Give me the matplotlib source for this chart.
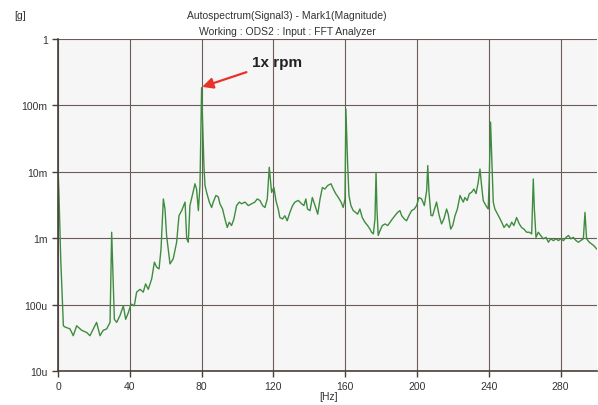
import numpy as np
import matplotlib
matplotlib.use("Agg")
import matplotlib.pyplot as plt
from matplotlib.ticker import FixedLocator, FixedFormatter, NullLocator

plt.rcParams['font.family'] = ['Liberation Sans', 'DejaVu Sans']

# spectrum: frequency [Hz] and magnitude [g]
freq = [0.0, 0.5, 1.5, 3.0, 3.9, 6.7, 8.5, 10.4, 13.2, 16.0, 17.8, 19.7, 21.5, 23.4, 25.2, 27.1, 29.0,
        29.9, 31.4, 32.7, 34.5, 36.4, 37.7, 39.2, 40.7, 42.5, 43.8, 45.7, 47.5, 48.8, 50.3, 52.2, 53.7,
        55.0, 56.3, 57.4, 58.7, 59.6, 60.5, 62.4, 64.2, 66.1, 67.4, 68.9, 70.8, 71.7, 72.6, 73.5, 75.0,
        76.3, 77.2, 78.2, 79.1, 80.0, 81.3, 81.9, 82.8, 84.3, 85.6, 86.5, 88.0, 89.3, 90.2, 91.7, 93.0,
        94.3, 95.4, 96.7, 98.0, 99.5, 101.0, 102.3, 104.2, 106.0, 107.9, 109.7, 111.0, 112.5, 114.0,
        115.3, 116.6, 117.7, 119.0, 120.3, 121.4, 122.7, 123.6, 125.1, 126.4, 127.7, 129.2, 130.7,
        132.0, 133.9, 135.7, 137.0, 138.1, 139.0, 140.4, 141.7, 143.2, 144.7, 146.0, 147.3, 148.7,
        150.2, 152.1, 153.4, 154.7, 156.2, 157.7, 158.9, 159.9, 160.4, 161.4, 162.1, 163.2, 164.5,
        165.8, 166.9, 168.2, 169.5, 171.0, 172.5, 173.8, 174.7, 175.7, 176.6, 177.2, 177.7, 178.4,
        179.4, 180.7, 182.2, 183.7, 185.0, 186.3, 187.7, 189.2, 190.5, 191.5, 192.9, 194.2, 195.5,
        197.0, 198.5, 199.8, 201.1, 202.6, 204.1, 205.4, 206.0, 206.7, 207.8, 208.7, 210.9, 212.4,
        213.7, 215.0, 216.5, 217.4, 218.8, 219.9, 221.2, 222.5, 224.0, 224.9, 225.8, 226.7, 228.0,
        229.2, 230.4, 231.7, 232.9, 234.1, 235.1, 236.0, 236.9, 238.4, 239.7, 240.3, 241.0, 241.8,
        242.5, 243.4, 244.4, 245.9, 247.2, 248.5, 250.0, 251.4, 252.8, 254.0, 255.5, 257.0, 258.3,
        259.6, 261.1, 262.6, 263.9, 264.8, 265.4, 266.3, 267.6, 268.9, 270.4, 271.9, 273.2, 274.5,
        276.0, 277.5, 278.8, 280.1, 281.6, 283.1, 284.4, 285.7, 287.1, 288.6, 289.9, 291.2, 292.7,
        293.6, 294.5, 296.0, 297.3, 298.6, 300.1]
mag = [11e-3, 5e-3, 0.5e-3, 48e-6, 46e-6, 43e-6, 34e-6, 48e-6, 41e-6, 38e-6, 34e-6, 43e-6, 54e-6, 34e-6,
       41e-6, 43e-6, 54e-6,
       1.23e-3, 60e-6, 54e-6, 68e-6, 96e-6, 60e-6, 76e-6, 102e-6, 96e-6, 154e-6, 170e-6, 154e-6,
       205e-6, 170e-6, 244e-6, 435e-6,
       365e-6, 345e-6, 0.69e-3, 3.9e-3, 2.75e-3, 1.1e-3, 410e-6, 0.49e-3, 0.87e-3, 2.18e-3, 2.6e-3,
       3.5e-3, 0.98e-3, 0.87e-3, 3.1e-3, 4.6e-3,
       6.6e-3, 5.5e-3, 2.6e-3, 6.2e-3, 0.185, 12.4e-3, 6.2e-3, 4.9e-3, 3.5e-3, 2.9e-3, 3.5e-3, 4.4e-3,
       4.2e-3, 3.3e-3, 2.75e-3, 1.95e-3,
       1.45e-3, 1.74e-3, 1.55e-3, 1.95e-3, 3.1e-3, 3.5e-3, 3.3e-3, 3.5e-3, 3.1e-3, 3.3e-3, 3.5e-3,
       3.9e-3, 3.7e-3, 3.1e-3,
       2.9e-3, 3.9e-3, 11.7e-3, 4.9e-3, 5.8e-3, 3.7e-3, 2.75e-3, 2.05e-3, 1.95e-3, 2.18e-3, 1.83e-3,
       2.45e-3, 3.1e-3,
       3.5e-3, 3.7e-3, 3.3e-3, 3.1e-3, 3.9e-3, 2.75e-3, 2.6e-3, 4.1e-3, 3.1e-3, 2.3e-3, 3.9e-3,
       5.8e-3, 5.5e-3,
       6.2e-3, 6.6e-3, 5.5e-3, 4.7e-3, 4.1e-3, 3.5e-3, 2.9e-3, 3.9e-3, 88e-3, 12.4e-3, 4.4e-3,
       3.1e-3, 2.6e-3,
       2.45e-3, 2.3e-3, 2.75e-3, 2.05e-3, 1.74e-3, 1.55e-3, 1.37e-3, 1.23e-3, 1.16e-3, 1.95e-3,
       9.8e-3, 2.75e-3, 1.1e-3,
       1.3e-3, 1.55e-3, 1.64e-3, 1.55e-3, 1.74e-3, 1.95e-3, 2.18e-3, 2.45e-3, 2.6e-3, 2.18e-3,
       1.95e-3, 1.83e-3, 2.18e-3,
       2.6e-3, 2.75e-3, 3.1e-3, 4.1e-3, 3.9e-3, 3.1e-3, 5.2e-3, 12.4e-3, 4.9e-3, 2.2e-3, 2.18e-3,
       3.5e-3, 2.18e-3,
       1.64e-3, 1.95e-3, 2.75e-3, 2.3e-3, 1.37e-3, 1.55e-3, 2.18e-3, 2.75e-3, 4.4e-3, 3.9e-3,
       3.5e-3, 4.1e-3, 3.7e-3,
       4.7e-3, 4.9e-3, 5.5e-3, 4.7e-3, 6.9e-3, 11.0e-3, 6.2e-3, 3.7e-3, 3.1e-3, 2.75e-3, 8.7e-3,
       56e-3, 12.4e-3,
       3.5e-3, 2.75e-3, 2.45e-3, 2.05e-3, 1.74e-3, 1.45e-3, 1.64e-3, 1.45e-3, 1.74e-3, 1.55e-3,
       2.05e-3, 1.64e-3, 1.45e-3,
       1.37e-3, 1.23e-3, 1.23e-3, 1.16e-3, 7.8e-3, 2.75e-3, 1.03e-3, 1.23e-3, 1.1e-3, 0.98e-3,
       1.03e-3, 0.87e-3, 0.98e-3,
       0.92e-3, 0.98e-3, 0.92e-3, 0.98e-3, 0.92e-3, 1.03e-3, 1.1e-3, 0.98e-3, 1.03e-3, 0.92e-3,
       0.87e-3, 0.92e-3, 0.98e-3,
       2.45e-3, 0.98e-3, 0.87e-3, 0.82e-3, 0.77e-3, 0.69e-3]

x_ticks = [0, 40, 80, 120, 160, 200, 240, 280]
y_ticks = [1e-5, 1e-4, 1e-3, 1e-2, 1e-1, 1]
y_labels = ['10u', '100u', '1m', '10m', '100m', '1']

fig = plt.figure(figsize=(5.98, 4.06), dpi=100)
ax = fig.add_axes([58 / 598, 1 - 372 / 406, 539 / 598, 332 / 406])
ax.set_facecolor('#f6f6f6')

ax.plot(freq, mag, color='#3f8c3f', linewidth=1.0)

ax.set_yscale('log')
ax.set_xlim(0, 300.3)
ax.set_ylim(1e-5, 1)
ax.xaxis.set_major_locator(FixedLocator(x_ticks))
ax.yaxis.set_major_locator(FixedLocator(y_ticks))
ax.yaxis.set_major_formatter(FixedFormatter(y_labels))
ax.yaxis.set_minor_locator(NullLocator())

gc = '#6b5c58'
ax.grid(True, color=gc, linewidth=0.8)
for s in ['top', 'right']:
    ax.spines[s].set_visible(False)
for s in ['left', 'bottom']:
    ax.spines[s].set_color('#4a3e3b')
    ax.spines[s].set_linewidth(1.2)
ax.tick_params(colors='#4a3e3b', labelcolor='#333333', labelsize=7.5, length=4, width=1)

# titles and units
fig.text(287 / 598, 1 - 16 / 406, 'Autospectrum(Signal3) - Mark1(Magnitude)', ha='center', va='center',
         fontsize=7.5, color='#333333')
fig.text(287 / 598, 1 - 32 / 406, 'Working : ODS2 : Input : FFT Analyzer', ha='center', va='center',
         fontsize=7.5, color='#333333')
fig.text(20 / 598, 1 - 16 / 406, '[g]', ha='center', va='center', fontsize=7.5, color='#333333')
fig.text(329 / 598, 1 - 397 / 406, '[Hz]', ha='center', va='center', fontsize=7.5, color='#333333')

ax.annotate('1x rpm', xy=(80.3, 0.19), xytext=(108, 0.45), ha='left', va='center',
            fontsize=11, fontweight='bold', color='#222222',
            arrowprops=dict(arrowstyle='-|>', color='#e8322a', lw=1.6, mutation_scale=16,
                            shrinkA=2, shrinkB=0))

fig.savefig('out.png', dpi=100)
